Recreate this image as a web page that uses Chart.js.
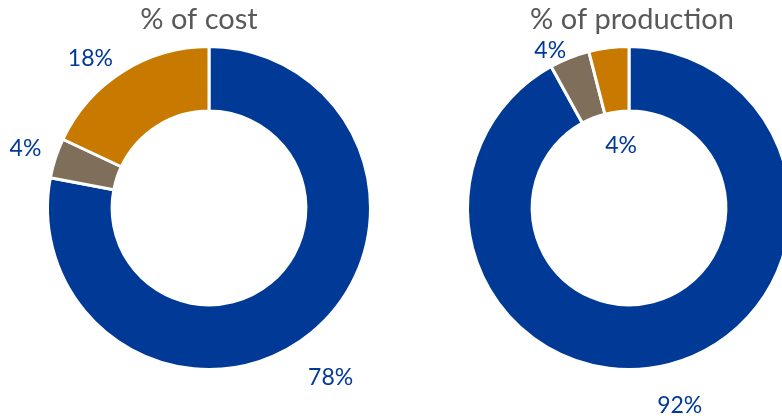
<!DOCTYPE html>
<html>
<head>
<meta charset="utf-8">
<script src="https://cdn.jsdelivr.net/npm/chart.js@4.4.0/dist/chart.umd.min.js"></script>
<style>
  html, body { margin: 0; padding: 0; background: #fff; overflow: hidden; width: 782px; height: 419px; }
  .wrap { position: absolute; top: 0; width: 420px; height: 419px; }
</style>
</head>
<body>
<div class="wrap" style="left:-1px"><canvas id="costChart"></canvas></div>
<div class="wrap" style="left:419px"><canvas id="prodChart"></canvas></div>
<script>
// Shares, clockwise from 12 o'clock
const categories = ['Blue', 'Brown', 'Orange'];
const costShare = [78, 4, 18];
const productionShare = [92, 4, 4];
const costLabels = ['78%', '4%', '18%'];
const productionLabels = ['92%', '4%', '4%'];

const COLORS = ['#003a96', '#7f6f5a', '#c87a00'];
const FONT = 'Lato, "Open Sans", sans-serif';

// draws the title and the percentage labels around the ring
const ringLabels = {
  id: 'ringLabels',
  afterDraw(chart, args, opts) {
    const ctx = chart.ctx;
    const meta = chart.getDatasetMeta(0);
    const arc0 = meta.data[0];
    const cx = arc0.x, cy = arc0.y;
    ctx.save();
    ctx.textAlign = 'center';
    ctx.textBaseline = 'middle';
    ctx.fillStyle = '#595959';
    ctx.font = '29px ' + FONT;
    ctx.fillText(opts.title, cx + (opts.titleDx || 0), 20);
    ctx.fillStyle = '#003a96';
    ctx.font = '23px ' + FONT;
    meta.data.forEach((arc, i) => {
      const p = opts.place[i];
      const mid = (arc.startAngle + arc.endAngle) / 2 + (p.da || 0) * Math.PI / 180;
      ctx.fillText(opts.labels[i], cx + Math.cos(mid) * p.r, cy + Math.sin(mid) * p.r);
    });
    ctx.restore();
  }
};

function makeRing(id, values, labels, title, titleDx, place) {
  return new Chart(document.getElementById(id), {
    type: 'doughnut',
    data: {
      labels: categories,
      datasets: [{
        data: values,
        backgroundColor: COLORS,
        borderColor: '#ffffff',
        borderWidth: 3,
        hoverOffset: 0
      }]
    },
    options: {
      responsive: true,
      maintainAspectRatio: false,
      animation: false,
      cutout: '60%',
      layout: { padding: { top: 45, bottom: 48, left: 47, right: 47 } },
      plugins: {
        legend: { display: false },
        tooltip: { enabled: false },
        ringLabels: { title, titleDx, labels, place }
      }
    },
    plugins: [ringLabels]
  });
}

makeRing('costChart', costShare, costLabels, '% of cost', -10,
  [{ r: 209, da: 4 }, { r: 193 }, { r: 191, da: -6 }]);
makeRing('prodChart', productionShare, productionLabels, '% of production', 3,
  [{ r: 204 }, { r: 176, da: -5 }, { r: 63 }]);
</script>
</body>
</html>
